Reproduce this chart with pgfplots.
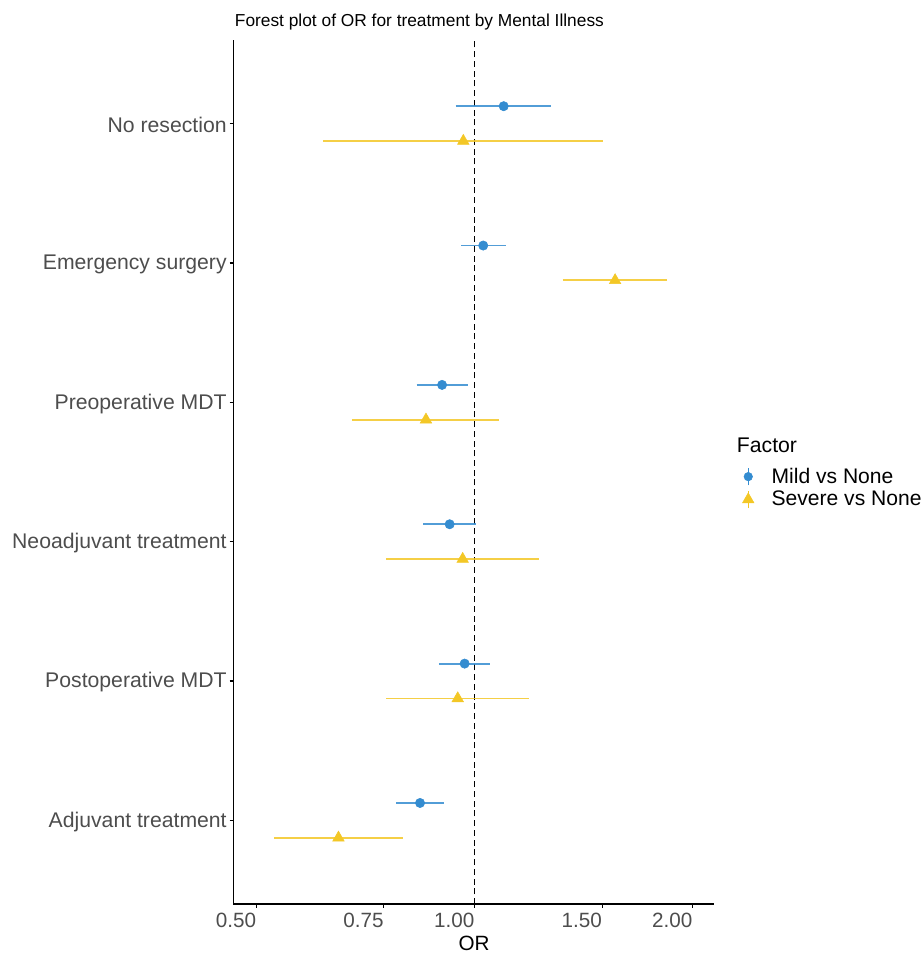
\documentclass[border=0pt]{standalone}
\usepackage{fontspec}
\setmainfont{Liberation Sans}
\usepackage{pgfplots}
\usepackage{pgfplotstable}
\pgfplotsset{compat=1.18}
\definecolor{mildc}{RGB}{52,140,208}
\definecolor{sevc}{RGB}{243,199,38}
\definecolor{tickc}{RGB}{77,77,77}

% marks: y position, OR
\pgfplotstableread{
y or
6.125 1.097
5.125 1.028
4.125 0.902
3.125 0.924
2.125 0.969
1.125 0.841
}\mild
\pgfplotstableread{
y or
5.875 0.965
4.875 1.563
3.875 0.857
2.875 0.963
1.875 0.948
0.875 0.649
}\severe
% confidence intervals (lower, upper), separated by nan
\pgfplotstableread{
x y
0.942 6.125
1.276 6.125
nan nan
0.959 5.125
1.106 5.125
nan nan
0.832 4.125
0.978 4.125
nan nan
0.849 3.125
1.006 3.125
nan nan
0.893 2.125
1.050 2.125
nan nan
0.780 1.125
0.907 1.125
}\mildci
\pgfplotstableread{
x y
0.618 5.875
1.505 5.875
nan nan
1.323 4.875
1.844 4.875
nan nan
0.677 3.875
1.082 3.875
nan nan
0.755 2.875
1.226 2.875
nan nan
0.755 1.875
1.190 1.875
nan nan
0.529 0.875
0.797 0.875
}\severeci

\begin{document}
\begin{tikzpicture}
\useasboundingbox (0,0) rectangle (692.25pt,715.5pt);
\begin{axis}[
  at={(175pt,37.5pt)}, anchor=south west,
  scale only axis, width=360.5pt, height=648pt,
  xmode=log, xmin=0.4647, xmax=2.140, ymin=0.4, ymax=6.6,
  axis x line=bottom, axis y line=left,
  axis line style={-, line width=0.8pt, black},
  xtick={0.5,0.75,1,1.5,2}, xticklabels={0.50,0.75,1.00,1.50,2.00},
  xminorticks=false, yminorticks=false,
  ytick={1,2,3,4,5,6},
  yticklabels={Adjuvant treatment, Postoperative MDT, Neoadjuvant treatment, Preoperative MDT, Emergency surgery, No resection},
  tick align=outside, major tick length=2.8pt,
  tick style={line width=0.8pt, black},
  yticklabel style={font=\fontsize{15.9}{18}\selectfont, text=tickc, inner sep=0pt, xshift=-2pt, yshift=-1pt},
  xticklabel style={font=\fontsize{15.5}{18}\selectfont, text=tickc, anchor=north east, inner sep=0pt, yshift=-4pt},
  unbounded coords=jump,
  legend style={draw=none, fill=none, at={(1.0574,0.5079)}, anchor=north west,
    inner sep=0pt, outer sep=0pt, row sep=0pt,
    nodes={inner sep=0pt, font=\fontsize{15.8}{18}\selectfont, text=black},
    cells={anchor=west}},
]
\addplot[black, line width=1pt, dash pattern=on 4.5pt off 2.8pt, forget plot] coordinates {(1,0.4) (1,6.6)};
\addplot[mildc, line width=1.35pt, forget plot, opacity=0.85] table[x=x,y=y]{\mildci};
\addplot[sevc, line width=1.35pt, forget plot, opacity=0.85] table[x=x,y=y]{\severeci};
\addplot[only marks, mark=*, mark size=3.5pt, mildc, forget plot] table[x=or,y=y]{\mild};
\addplot[only marks, mark=triangle*, mark size=5pt, sevc, forget plot] table[x=or,y=y]{\severe};
\addlegendimage{legend image code/.code={\path[draw=none,fill=none] (-5pt,-8.6pt) rectangle (17.55pt,8.6pt);
  \draw[mildc, line width=1.1pt] (0pt,-6.6pt) -- (0pt,6.6pt);
  \fill[mildc] (0pt,0pt) circle (3.2pt);}}
\addlegendentry{Mild vs None}
\addlegendimage{legend image code/.code={\path[draw=none,fill=none] (-5pt,-8.6pt) rectangle (17.55pt,8.6pt);
  \draw[sevc, line width=1.1pt] (0pt,-6.6pt) -- (0pt,6.6pt);
  \fill[sevc] (90:5pt) -- (210:5pt) -- (330:5pt) -- cycle;}}
\addlegendentry{Severe vs None}
\end{axis}
\node[anchor=base west, inner sep=0pt, font=\fontsize{13}{15}\selectfont] at (176pt,695.6pt) {Forest plot of OR for treatment by Mental Illness};
\node[anchor=base west, inner sep=0pt, font=\fontsize{15.9}{18}\selectfont] at (552.5pt,376pt) {Factor};
\node[anchor=base, inner sep=0pt, font=\fontsize{15.5}{18}\selectfont] at (355.5pt,2.8pt) {OR};
\end{tikzpicture}
\end{document}
